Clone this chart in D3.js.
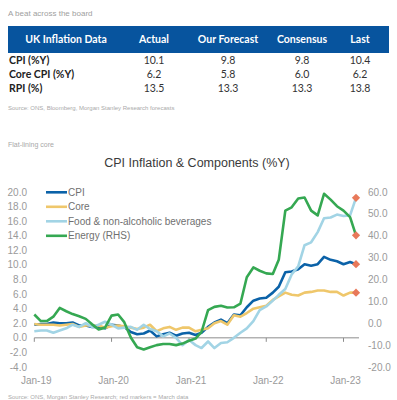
<!DOCTYPE html>
<html>
<head>
<meta charset="utf-8">
<script src="https://cdn.jsdelivr.net/npm/d3@7"></script>
<style>
  body { margin: 0; background: #fff; }
  svg { display: block; }
</style>
</head>
<body>
<div class="canvas"></div>
<script>
// table data
const tableCols = ['UK Inflation Data', 'Actual', 'Our Forecast', 'Consensus', 'Last'];
const tableRows = ['CPI (%Y)', 'Core CPI (%Y)', 'RPI (%)'];
const actual = ['10.1', '6.2', '13.5'];
const forecast = ['9.8', '5.8', '13.3'];
const consensus = ['9.8', '6.0', '13.3'];
const last = ['10.4', '6.2', '13.8'];

// chart data, monthly Jan-19 .. Mar-23
const seriesNames = ['CPI', 'Core', 'Food & non-alcoholic beverages', 'Energy (RHS)'];
const cpi = [1.8, 1.9, 1.9, 2.1, 2.0, 2.0, 2.1, 1.7, 1.7, 1.5, 1.5, 1.3,
  1.8, 1.7, 1.5, 0.8, 0.5, 0.6, 1.0, 0.2, 0.5, 0.7, 0.3, 0.6,
  0.7, 0.4, 0.7, 1.5, 2.1, 2.5, 2.0, 3.2, 3.1, 4.2, 5.1, 5.4,
  5.5, 6.2, 7.0, 9.0, 9.1, 9.4, 10.1, 9.9, 10.1, 11.1, 10.7, 10.5,
  10.1, 10.4, 10.1];
const core = [1.9, 1.8, 1.8, 1.8, 1.7, 1.8, 1.9, 1.5, 1.7, 1.7, 1.7, 1.4,
  1.6, 1.7, 1.6, 1.4, 1.2, 1.4, 1.8, 0.9, 1.3, 1.5, 1.1, 1.4,
  1.4, 0.9, 1.1, 1.3, 2.0, 2.3, 1.8, 3.1, 2.9, 3.4, 4.0, 4.2,
  4.4, 5.2, 5.7, 6.2, 5.9, 5.8, 6.2, 6.3, 6.5, 6.5, 6.3, 6.3,
  5.8, 6.2, 6.2];
const food = [0.9, 1.0, 1.0, 0.7, 1.0, 1.3, 1.8, 1.5, 2.0, 1.5, 1.8, 2.2,
  1.8, 1.3, 1.4, 1.5, 1.1, 1.8, 1.2, 0.9, 0.2, 0.6, 0.0, -1.0,
  -0.3, -1.0, -1.4, -0.5, -1.4, -0.7, -0.6, 0.0, 0.7, 1.3, 2.3, 3.8,
  4.3, 5.1, 5.9, 6.7, 8.7, 9.8, 12.7, 13.1, 14.5, 16.4, 16.5, 16.9,
  16.7, 16.8, 19.2];
const energy = [4.0, 1.0, 1.0, 3.0, 7.0, 5.5, 4.2, 3.2, 2.0, -0.5, -2.8, -2.0,
  3.5, 4.0, 0.5, -6.5, -11.0, -12.0, -11.0, -10.0, -9.5, -9.5, -10.0, -9.3,
  -8.0, -7.0, -4.0, 6.0, 7.5, 8.0, 7.2, 7.3, 9.0, 21.0, 25.5, 24.0,
  22.8, 22.5, 29.0, 51.5, 53.0, 57.0, 57.5, 51.5, 49.3, 59.2, 56.5, 53.5,
  51.5, 48.5, 40.2];
const leftTicks = [-4, -2, 0, 2, 4, 6, 8, 10, 12, 14, 16, 18, 20];
const rightTicks = [-20, -10, 0, 10, 20, 30, 40, 50, 60];
const xTickLabels = ['Jan-19', 'Jan-20', 'Jan-21', 'Jan-22', 'Jan-23'];

const months = d3.range(cpi.length).map(i => new Date(2019, i, 1));

const svg = d3.select('.canvas')
  .append('svg')
  .attr('width', 397)
  .attr('height', 400);

const grey = '#9a9a9a';

// ---- top table ----
svg.append('text')
  .attr('x', 8).attr('y', 16)
  .attr('font-family', 'Liberation Sans, Arial, sans-serif')
  .attr('font-size', 8).attr('fill', '#a0a0a0')
  .text('A beat across the board');

svg.append('rect')
  .attr('x', 8).attr('y', 26)
  .attr('width', 381).attr('height', 27)
  .attr('fill', '#07549e');

const colX = [66, 154, 228, 302, 360];

svg.selectAll('.hdr')
  .data(tableCols)
  .join('text')
  .attr('class', 'hdr')
  .attr('x', (d, i) => colX[i])
  .attr('y', 43)
  .attr('text-anchor', 'middle')
  .attr('font-family', 'Lato, sans-serif')
  .attr('font-weight', 'bold')
  .attr('font-size', 10.5)
  .attr('fill', '#fff')
  .text(d => d);

const rowY = [64, 78, 92];
const cols = [actual, forecast, consensus, last];

tableRows.forEach((r, ri) => {
  svg.append('text')
    .attr('x', 9).attr('y', rowY[ri])
    .attr('font-family', 'Lato, sans-serif')
    .attr('font-weight', 'bold')
    .attr('font-size', 10.5)
    .attr('fill', '#222')
    .text(r);
  cols.forEach((c, ci) => {
    svg.append('text')
      .attr('x', colX[ci + 1]).attr('y', rowY[ri])
      .attr('text-anchor', 'middle')
      .attr('font-family', 'Lato, sans-serif')
      .attr('font-size', 10.5)
      .attr('fill', '#333')
      .text(c[ri]);
  });
});

svg.append('text')
  .attr('x', 8).attr('y', 110)
  .attr('font-family', 'Liberation Sans, Arial, sans-serif')
  .attr('font-size', 6).attr('fill', '#aaa')
  .text('Source: ONS, Bloomberg, Morgan Stanley Research forecasts');

// ---- chart ----
svg.append('text')
  .attr('x', 8).attr('y', 147)
  .attr('font-family', 'Liberation Sans, Arial, sans-serif')
  .attr('font-size', 7).attr('fill', '#a8a8a8')
  .text('Flat-lining core');

svg.append('text')
  .attr('x', 197).attr('y', 167)
  .attr('text-anchor', 'middle')
  .attr('font-family', 'Liberation Sans, Arial, sans-serif')
  .attr('font-size', 12.5).attr('fill', '#3a3a3a')
  .text('CPI Inflation & Components (%Y)');

const x = d3.scaleTime()
  .domain([months[0], months[months.length - 1]])
  .range([34.3, 356]);

const yL = d3.scaleLinear().domain([-4, 20]).range([367, 192]);
const yR = d3.scaleLinear().domain([-20, 60]).range([367, 192]);

const fmt = v => v.toFixed(1);

svg.selectAll('.lt')
  .data(leftTicks)
  .join('text')
  .attr('class', 'lt')
  .attr('x', 27).attr('y', d => yL(d) + 3.5)
  .attr('text-anchor', 'end')
  .attr('font-family', 'Liberation Sans, Arial, sans-serif')
  .attr('font-size', 10).attr('fill', grey)
  .text(fmt);

svg.selectAll('.rt')
  .data(rightTicks)
  .join('text')
  .attr('class', 'rt')
  .attr('x', 368).attr('y', d => yR(d) + 3.5)
  .attr('font-family', 'Liberation Sans, Arial, sans-serif')
  .attr('font-size', 10).attr('fill', grey)
  .text(fmt);

// x axis along left zero
const xAxis = svg.append('g')
  .attr('transform', `translate(0, ${yL(0)})`);
xAxis.append('line')
  .attr('x1', 34.3).attr('x2', 359)
  .attr('stroke', '#8c8c8c').attr('stroke-width', 1);

const yearTicks = xTickLabels.map((d, i) => new Date(2019 + i, 0, 1));
xAxis.selectAll('.xt')
  .data(yearTicks)
  .join('line')
  .attr('class', 'xt')
  .attr('x1', d => x(d)).attr('x2', d => x(d))
  .attr('y1', 0).attr('y2', 4)
  .attr('stroke', '#8c8c8c');

svg.selectAll('.xl')
  .data(yearTicks)
  .join('text')
  .attr('class', 'xl')
  .attr('x', d => x(d) + 2)
  .attr('y', 384)
  .attr('text-anchor', 'middle')
  .attr('font-family', 'Liberation Sans, Arial, sans-serif')
  .attr('font-size', 10).attr('fill', grey)
  .text((d, i) => xTickLabels[i]);

const colors = ['#0b62a8', '#efc76b', '#a2d4e5', '#35a852'];
const series = [
  { vals: cpi, y: yL },
  { vals: core, y: yL },
  { vals: food, y: yL },
  { vals: energy, y: yR }
];

series.forEach((s, si) => {
  const line = d3.line()
    .x((d, i) => x(months[i]))
    .y(d => s.y(d));
  svg.append('path')
    .datum(s.vals)
    .attr('d', line)
    .attr('fill', 'none')
    .attr('stroke', colors[si])
    .attr('stroke-width', 2.6)
    .attr('stroke-linejoin', 'round');
});

// March markers
const diamond = d3.symbol().type(d3.symbolSquare).size(34);
series.forEach(s => {
  const n = s.vals.length - 1;
  svg.append('path')
    .attr('d', diamond)
    .attr('transform', `translate(${x(months[n])}, ${s.y(s.vals[n])}) rotate(45)`)
    .attr('fill', '#e8795a');
});

// legend
const lg = svg.selectAll('.lg')
  .data(seriesNames)
  .join('g')
  .attr('class', 'lg')
  .attr('transform', (d, i) => `translate(46, ${192.3 + i * 14.5})`);
lg.append('line')
  .attr('x1', 0).attr('x2', 21)
  .attr('stroke', (d, i) => colors[i])
  .attr('stroke-width', 2.6);
lg.append('text')
  .attr('x', 22).attr('y', 3.5)
  .attr('font-family', 'Liberation Sans, Arial, sans-serif')
  .attr('font-size', 10).attr('fill', '#707070')
  .text(d => d);

svg.append('text')
  .attr('x', 8).attr('y', 399)
  .attr('font-family', 'Liberation Sans, Arial, sans-serif')
  .attr('font-size', 6).attr('fill', '#aaa')
  .text('Source: ONS, Morgan Stanley Research; red markers = March data');
</script>
</body>
</html>
